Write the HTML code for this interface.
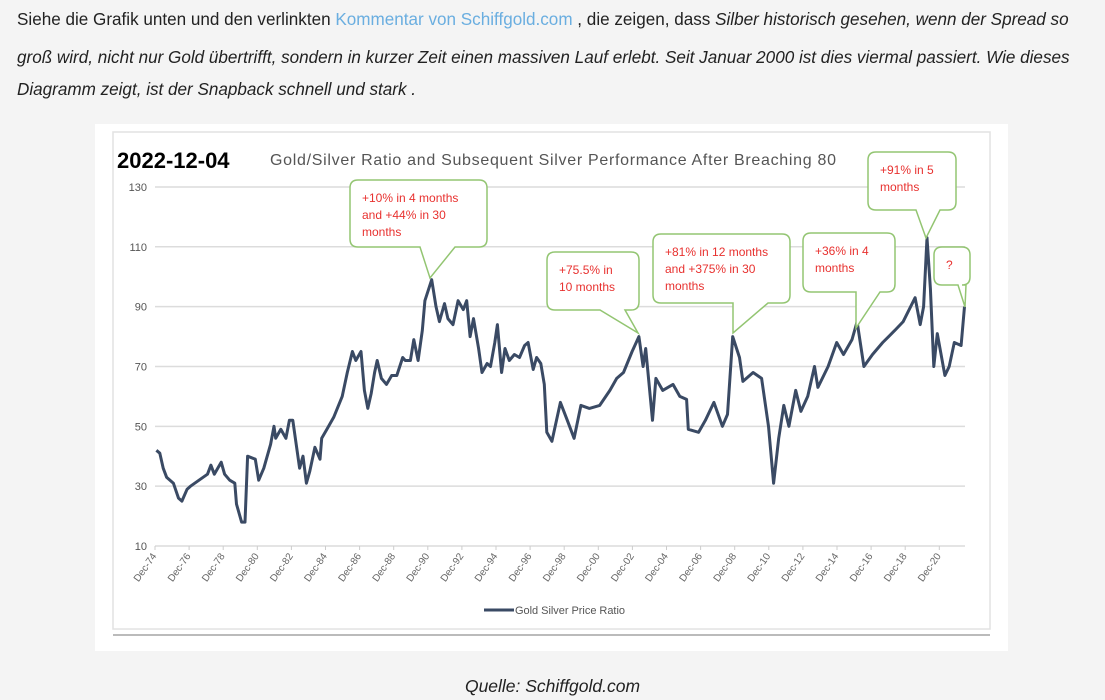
<!DOCTYPE html>
<html><head><meta charset="utf-8">
<style>
html,body{margin:0;padding:0;background:#f4f4f4;width:1105px;height:700px;overflow:hidden;font-family:"Liberation Sans",sans-serif;}
.p{position:absolute;left:17px;font-size:17.1px;color:#222;white-space:nowrap;line-height:20px;}
.p a{color:#6aaee0;text-decoration:none}
#chartbox{position:absolute;left:95px;top:124px;width:913px;height:527px;background:#fff;}
#cap{position:absolute;left:0;width:1105px;top:676px;text-align:center;font-style:italic;font-size:17.5px;color:#222;}
</style></head><body>
<div class="p" style="top:10px">Siehe die Grafik unten und den verlinkten <a href="#">Kommentar von Schiffgold.com</a> , die zeigen, dass <i>Silber historisch gesehen, wenn der Spread so</i></div>
<div class="p" style="top:48px;font-style:italic">groß wird, nicht nur Gold übertrifft, sondern in kurzer Zeit einen massiven Lauf erlebt. Seit Januar 2000 ist dies viermal passiert. Wie dieses</div>
<div class="p" style="top:80px;font-style:italic">Diagramm zeigt, ist der Snapback schnell und stark .</div>
<div id="chartbox"></div>
<svg id="svg" width="1105" height="700" style="position:absolute;left:0;top:0"></svg>
<div id="cap">Quelle: Schiffgold.com</div>
<script>
const yTicks=[10,30,50,70,90,110,130];
const xLabels=["Dec-74","Dec-76","Dec-78","Dec-80","Dec-82","Dec-84","Dec-86","Dec-88","Dec-90","Dec-92","Dec-94","Dec-96","Dec-98","Dec-00","Dec-02","Dec-04","Dec-06","Dec-08","Dec-10","Dec-12","Dec-14","Dec-16","Dec-18","Dec-20"];
const years=[
1975.0,1975.2,1975.4,1975.6,1975.8,1976.0,1976.3,1976.5,1976.8,1977.0,1977.5,1978.0,1978.2,1978.4,1978.8,1979.0,1979.3,1979.6,1979.7,
1980.0,1980.2,1980.35,1980.8,1981.0,1981.3,1981.7,1981.9,1982.0,1982.3,1982.6,1982.8,1983.0,1983.2,1983.4,1983.6,1983.8,1984.0,1984.3,1984.6,1984.7,
1985.0,1985.4,1985.9,1986.2,1986.5,1986.7,1987.0,1987.2,1987.4,1987.6,1987.8,1987.95,1988.2,1988.5,1988.8,1989.1,1989.45,1989.6,
1989.9,1990.1,1990.35,1990.6,1990.75,1991.15,1991.4,1991.6,1991.9,1992.1,1992.4,1992.7,1993.0,1993.2,1993.4,1993.6,1993.9,1994.1,1994.4,1994.6,
1994.85,1995.0,1995.25,1995.45,1995.7,1996.0,1996.3,1996.6,1996.8,1997.1,1997.3,1997.55,1997.75,1997.9,
1998.2,1998.7,1999.1,1999.5,1999.9,2000.4,2001.0,2001.6,2002.0,2002.4,2002.9,2003.3,2003.55,2003.7,2004.1,2004.3,2004.7,2005.3,2005.7,2006.1,2006.2,2006.8,2007.2,2007.7,2008.2,2008.5,2008.8,2009.2,2009.4,
2010.0,2010.5,2010.9,2011.2,2011.5,2011.8,2012.1,2012.5,2012.8,2013.2,2013.6,2013.8,2014.4,2014.9,2015.3,2015.8,2016.1,2016.5,2017.0,2017.6,2018.3,2018.8,2019.5,2019.8,2020.0,2020.2,2020.4,2020.6,2020.8,2021.25,2021.5,2021.8,2022.2,2022.4];
const ratio=[
42,41,36,33,32,31,26,25,29,30,32,34,37,34,38,34,32,31,24,
18,18,40,39,32,36,44,50,46,49,46,52,52,44,36,40,31,35,43,39,46,
49,53,60,68,75,72,75,62,56,61,68,72,66,64,67,67,73,72,
72,79,72,82,92,99,90,85,91,86,84,92,89,92,80,86,76,68,71,70,
78,84,68,76,72,74,73,77,78,69,73,71,64,48,
45,58,52,46,57,56,57,62,66,68,75,80,70,76,52,66,62,64,60,59,49,48,52,58,50,54,80,73,65,
68,66,50,31,46,57,50,62,55,60,70,63,70,78,74,79,85,70,74,78,82,85,93,84,90,113,96,70,81,67,70,78,77,90];
const callouts=[
 {lines:["+10% in 4 months","and +44% in 30","months"],x:350,y:180,w:137,h:67,tx:430,ty:278,b1:420,b2:455},
 {lines:["+75.5% in","10 months"],x:547,y:252,w:92,h:58,tx:638,ty:333,b1:600,b2:625},
 {lines:["+81% in 12 months","and +375% in 30","months"],x:653,y:234,w:137,h:69,tx:733,ty:333,b1:733,b2:768},
 {lines:["+36% in 4","months"],x:803,y:233,w:92,h:59,tx:856,ty:328,b1:856,b2:880},
 {lines:["+91% in 5","months"],x:868,y:152,w:88,h:58,tx:926,ty:238,b1:916,b2:940},
 {lines:["?"],x:934,y:247,w:36,h:38,tx:965,ty:307,b1:958,b2:966}
];
const NS="http://www.w3.org/2000/svg";
const svg=document.getElementById('svg');
function mk(t,a,p){const e=document.createElementNS(NS,t);for(const k in a)e.setAttribute(k,a[k]);(p||svg).appendChild(e);return e;}
const X=yr=>155+(yr-1974.92)*17.05;
const Y=v=>546-(v-10)*2.992;
let fr=mk('rect',{x:113,y:132,width:877,height:497,fill:'none',stroke:'#e2e2e2','stroke-width':1.5});


let hl=mk('line',{x1:113,y1:635,x2:990,y2:635,stroke:'#777','stroke-width':1});


yTicks.forEach(v=>{
 const g=mk('line',{x1:155,x2:965,y1:Y(v),y2:Y(v),stroke:'#dcdcdc','stroke-width':1.5});
 
 
 const t=mk('text',{x:147,y:Y(v)+4,'text-anchor':'end','font-size':11,fill:'#555','font-family':'Liberation Sans, sans-serif'});
 t.textContent=v;
 
 
});
xLabels.forEach((l,i)=>{
 const x=X(1974.92+2*i);
 const tk=mk('line',{x1:x,x2:x,y1:546,y2:550,stroke:'#ccc'});
 
 
 const t=mk('text',{x:x+2,y:556,'text-anchor':'end','font-size':10,fill:'#666','font-family':'Liberation Sans, sans-serif',transform:`rotate(-55 ${x+2} 556)`});
 t.textContent=l;
 
 
});
const n=Math.min(years.length,ratio.length);
const pts=years.slice(0,n).map((y,i)=>X(y).toFixed(1)+','+Y(ratio[i]).toFixed(1)).join(' ');
const ln=mk('polyline',{points:pts,fill:'none',stroke:'#3a4a64','stroke-width':3,'stroke-linejoin':'round'});


callouts.forEach((c,i)=>{
 const g=mk('g',{});
 
 
 const r=8,b=c.y+c.h;
 const d=`M${c.x+r},${c.y} H${c.x+c.w-r} Q${c.x+c.w},${c.y} ${c.x+c.w},${c.y+r} V${b-r} Q${c.x+c.w},${b} ${c.x+c.w-r},${b} H${c.b2} L${c.tx},${c.ty} L${c.b1},${b} H${c.x+r} Q${c.x},${b} ${c.x},${b-r} V${c.y+r} Q${c.x},${c.y} ${c.x+r},${c.y} Z`;
 mk('path',{d,fill:'#fff',stroke:'#93c572','stroke-width':1.5},g);
 c.lines.forEach((l,j)=>{
  const t=mk('text',{x:c.x+12,y:c.y+22+j*17,'font-size':12,fill:'#e8312f','font-family':'Liberation Sans, sans-serif'},g);
  t.textContent=l;
 });
});
let t1=mk('text',{x:117,y:168,'font-size':22,'font-weight':'bold',fill:'#000','font-family':'Liberation Sans, sans-serif'});
t1.textContent='2022-12-04';


let t2=mk('text',{x:270,y:165,'font-size':16,fill:'#555','font-family':'Liberation Sans, sans-serif',textLength:566});
t2.textContent='Gold/Silver Ratio and Subsequent Silver Performance After Breaching 80';


let lg=mk('g',{});


mk('line',{x1:484,x2:514,y1:610,y2:610,stroke:'#3a4a64','stroke-width':3},lg);
let lt=mk('text',{x:515,y:614,'font-size':11,fill:'#555','font-family':'Liberation Sans, sans-serif',textLength:110},lg);
lt.textContent='Gold Silver Price Ratio';
</script>
</body></html>
